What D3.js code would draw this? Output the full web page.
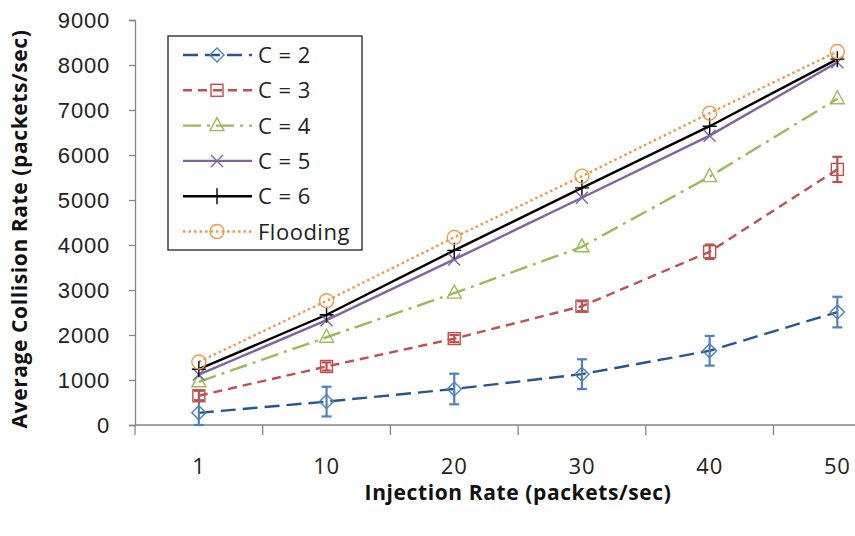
<!DOCTYPE html>
<html>
<head>
<meta charset="utf-8">
<script src="https://cdn.jsdelivr.net/npm/d3@7"></script>
<style>
  body { margin: 0; background: #fff; }
  svg { display: block; font-family: "Open Sans", "Liberation Sans", sans-serif; }
</style>
</head>
<body>
<div id="container"></div>
<script>
// data
const categories = ["1", "10", "20", "30", "40", "50"]
const yTicks = [0, 1000, 2000, 3000, 4000, 5000, 6000, 7000, 8000, 9000]

const c2 = [270, 520, 800, 1130, 1650, 2510]
const c2Err = [280, 330, 340, 330, 330, 340]
const c3 = [650, 1300, 1920, 2640, 3850, 5680]
const c3Err = [110, 90, 80, 110, 160, 280]
const c4 = [960, 1950, 2930, 3960, 5520, 7250]
const c5 = [1120, 2330, 3680, 5050, 6430, 8060]
const c6 = [1240, 2450, 3880, 5270, 6640, 8130]
const flooding = [1400, 2760, 4170, 5530, 6930, 8300]

const seriesNames = ["C = 2", "C = 3", "C = 4", "C = 5", "C = 6", "Flooding"]

const series = [
  {name: seriesNames[0], values: c2, err: c2Err, line: "#285592", mark: "#4F81BD", dash: "15,7", marker: "diamond"},
  {name: seriesNames[1], values: c3, err: c3Err, line: "#C0504D", mark: "#C0504D", dash: "9,6", marker: "square"},
  {name: seriesNames[2], values: c4, err: null, line: "#9BBB59", mark: "#9BBB59", dash: "18,6,3,6", marker: "triangle"},
  {name: seriesNames[3], values: c5, err: null, line: "#8064A2", mark: "#8064A2", dash: null, marker: "cross"},
  {name: seriesNames[4], values: c6, err: null, line: "#000000", mark: "#000000", dash: null, marker: "plus"},
  {name: seriesNames[5], values: flooding, err: null, line: "#F79646", mark: "#F79646", dash: "2.5,3", marker: "circle"}
]

const width = 855
const height = 536

const svg = d3.create("svg")
  .attr("width", width)
  .attr("height", height)
container.append(svg.node())

svg.append("rect").attr("width", width).attr("height", height).style("fill", "white")

const axisColor = "#868686"
const plotLeft = 135
const bandW = 127.7

const x = d3.scaleBand()
  .domain(categories)
  .range([plotLeft, plotLeft + bandW * categories.length])
const cx = (c) => x(c) + x.bandwidth() / 2

const y = d3.scaleLinear()
  .domain([0, 9000])
  .range([425, 20])

// y axis
const yAxis = svg.append("g")
  .attr("transform", `translate(${plotLeft},0)`)
  .call(d3.axisLeft(y).tickValues(yTicks).tickSize(6).tickPadding(19).tickFormat(d3.format("d")))
yAxis.select(".domain").attr("stroke", axisColor).attr("stroke-width", 1.3)
yAxis.selectAll(".tick line").attr("stroke", axisColor).attr("stroke-width", 1.3)
yAxis.selectAll(".tick text").attr("fill", "#222").style("font-size", "22px").style("letter-spacing", "0.8px")

// x axis: line, boundary ticks, centered labels
const xAxis = svg.append("g")
xAxis.append("line")
  .attr("x1", plotLeft).attr("x2", width)
  .attr("y1", y(0)).attr("y2", y(0))
  .attr("stroke", axisColor).attr("stroke-width", 1.3)
xAxis.selectAll(".xt")
  .data(categories)
  .join("line")
  .attr("class", "xt")
  .attr("x1", d => x(d)).attr("x2", d => x(d))
  .attr("y1", y(0)).attr("y2", y(0) + 10)
  .attr("stroke", axisColor).attr("stroke-width", 1.3)
xAxis.selectAll(".xl")
  .data(categories)
  .join("text")
  .attr("class", "xl")
  .attr("x", d => cx(d))
  .attr("y", 474)
  .attr("text-anchor", "middle")
  .attr("fill", "#222")
  .style("font-size", "22px")
  .style("letter-spacing", "0.8px")
  .text(d => d)

// axis titles
svg.append("text")
  .attr("x", 518).attr("y", 500)
  .attr("text-anchor", "middle")
  .style("font-size", "21px").style("font-weight", "bold")
  .style("letter-spacing", "0.6px")
  .attr("fill", "#111")
  .text("Injection Rate (packets/sec)")
svg.append("text")
  .attr("transform", "translate(27,229) rotate(-90)")
  .attr("text-anchor", "middle")
  .style("font-size", "21px").style("font-weight", "bold")
  .style("letter-spacing", "0.6px")
  .attr("fill", "#111")
  .text("Average Collision Rate (packets/sec)")

// marker drawing
const drawMarker = (g, type, color) => {
  const s = {fill: "none", stroke: color, "stroke-width": 1.4}
  let el
  if (type === "diamond") el = g.append("path").attr("d", "M0,-7L7,0L0,7L-7,0Z")
  else if (type === "square") el = g.append("rect").attr("x", -6).attr("y", -6).attr("width", 12).attr("height", 12)
  else if (type === "triangle") el = g.append("path").attr("d", "M0,-8L7,5L-7,5Z")
  else if (type === "cross") el = g.append("path").attr("d", "M-6,-6L6,6M-6,6L6,-6")
  else if (type === "plus") el = g.append("path").attr("d", "M-7,0L7,0M0,-8L0,8")
  else el = g.append("circle").attr("r", 7)
  Object.entries(s).forEach(([k, v]) => el.attr(k, v))
}

const line = d3.line()
  .x((d, i) => cx(categories[i]))
  .y(d => y(d))

const plot = svg.append("g")

series.forEach(s => {
  plot.append("path")
    .datum(s.values)
    .attr("d", line)
    .attr("fill", "none")
    .attr("stroke", s.line)
    .attr("stroke-width", 2.4)
    .attr("stroke-dasharray", s.dash)
})

series.forEach(s => {
  s.values.forEach((v, i) => {
    const g = plot.append("g").attr("transform", `translate(${cx(categories[i])},${y(v)})`)
    drawMarker(g, s.marker, s.mark)
  })
  if (s.err) {
    s.values.forEach((v, i) => {
      const px = cx(categories[i])
      const top = y(v + s.err[i])
      const bot = y(Math.max(0, v - s.err[i]))
      const eb = plot.append("g").attr("stroke", s.mark).attr("stroke-width", 2.2)
      eb.append("line").attr("x1", px).attr("x2", px).attr("y1", top).attr("y2", bot)
      eb.append("line").attr("x1", px - 5).attr("x2", px + 5).attr("y1", top).attr("y2", top)
      eb.append("line").attr("x1", px - 5).attr("x2", px + 5).attr("y1", bot).attr("y2", bot)
    })
  }
})

// legend
const legend = svg.append("g").attr("transform", "translate(168,36)")
legend.append("rect")
  .attr("width", 194).attr("height", 214)
  .attr("fill", "white").attr("stroke", "#222").attr("stroke-width", 1.3)
const item = legend.selectAll(".li")
  .data(series)
  .join("g")
  .attr("class", "li")
  .attr("transform", (d, i) => `translate(0,${19 + i * 35.3})`)
item.append("line")
  .attr("x1", 15).attr("x2", 84)
  .attr("stroke", d => d.line)
  .attr("stroke-width", 2.4)
  .attr("stroke-dasharray", d => d.dash)
item.each(function (d) {
  const g = d3.select(this).append("g").attr("transform", "translate(49,0)")
  drawMarker(g, d.marker, d.mark)
})
item.append("text")
  .attr("x", 90).attr("y", 8)
  .attr("fill", "#222")
  .style("font-size", "22px")
  .style("letter-spacing", "0.5px")
  .text(d => d.name)
</script>
</body>
</html>
